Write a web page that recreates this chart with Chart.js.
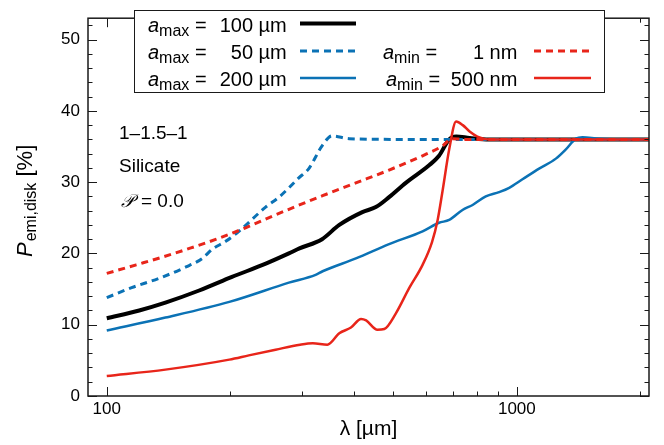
<!DOCTYPE html>
<html>
<head>
<meta charset="utf-8">
<script src="https://cdn.jsdelivr.net/npm/chart.js@4.4.1/dist/chart.umd.min.js"></script>
<style>
  html, body { margin: 0; padding: 0; background: #fff; }
  #wrap { width: 664px; height: 445px; }
</style>
</head>
<body>
<div id="wrap"><canvas id="chart" width="664" height="445"></canvas></div>
<script>
// valeurs (lambda en micron, P en %)
const lamAmax100 = [100, 120, 139, 168, 202, 245, 278, 295, 335, 369, 420, 453, 488, 536, 612, 646, 684, 711, 767, 855, 1000, 2100];
const pAmax100   = [10.9, 12.0, 13.1, 14.8, 16.7, 18.6, 20.0, 20.7, 22.0, 24.0, 25.8, 26.5, 27.9, 29.9, 32.4, 33.7, 36.0, 36.4, 36.2, 36.0, 36.0, 36.0];

const lamAmax50 = [100, 115, 134, 156, 171, 181, 195, 210, 244, 263, 278, 294, 311, 335, 354, 390, 516, 2100];
const pAmax50   = [13.8, 15.2, 16.5, 18.1, 19.3, 20.6, 21.7, 23.1, 26.5, 27.9, 29.2, 30.6, 31.9, 35.1, 36.5, 36.1, 36.0, 36.0];

const lamAmax200 = [100, 139, 199, 278, 323, 336, 405, 488, 589, 646, 684, 737, 780, 840, 905, 958, 1032, 1133, 1245, 1317, 1393, 1446, 1588, 2100];
const pAmax200   = [9.2, 11.0, 13.2, 15.9, 17.0, 17.5, 19.3, 21.3, 23.1, 24.3, 24.7, 26.1, 26.8, 28.0, 28.6, 29.2, 30.4, 31.9, 33.3, 34.6, 36.1, 36.3, 36.1, 36.0];

const lamAmin1 = [100, 118, 137, 159, 185, 218, 253, 295, 336, 405, 488, 589, 659, 695, 750, 2100];
const pAmin1   = [17.2, 18.4, 19.5, 20.7, 22.0, 23.6, 25.2, 26.8, 28.1, 29.9, 31.7, 33.7, 35.1, 36.1, 36.0, 36.0];

const lamAmin500 = [100, 139, 199, 222, 258, 296, 318, 345, 369, 394, 417, 429, 457, 475, 507, 547, 589, 621, 641, 659, 684, 711, 738, 767, 801, 856, 2100];
const pAmin500   = [2.8, 3.7, 5.1, 5.7, 6.5, 7.2, 7.4, 7.2, 8.8, 9.6, 10.8, 10.6, 9.3, 9.4, 11.6, 15.2, 18.4, 21.6, 24.7, 28.8, 34.6, 38.5, 38.0, 37.1, 36.4, 36.0, 36.0];

const xTicks = [100, 1000];
const xMinor = [200, 300, 400, 500, 600, 700, 800, 900, 2000];
const yTicks = [0, 10, 20, 30, 40, 50];
const yMinor = [2, 4, 6, 8, 12, 14, 16, 18, 22, 24, 26, 28, 32, 34, 36, 38, 42, 44, 46, 48, 52];

const BLACK = '#000000';
const BLUE = '#0b72b5';
const RED = '#e8251a';
const FONT = '"Liberation Sans", Arial, sans-serif';

function pts(xs, ys) {
  return xs.map((v, i) => ({ x: v, y: ys[i] }));
}

function serie(label, xs, ys, color, width, dash) {
  return {
    label: label,
    data: pts(xs, ys),
    borderColor: color,
    borderWidth: width,
    borderDash: dash || [],
    pointRadius: 0,
    fill: false,
    cubicInterpolationMode: 'monotone'
  };
}

// texte "a_sub = num unit" de la legende
function keyText(ctx, xa, base, sub, num, numRight, unit) {
  ctx.textAlign = 'left';
  ctx.font = 'italic 20px ' + FONT;
  ctx.fillText('a', xa, base);
  let xx = xa + ctx.measureText('a').width;
  ctx.font = '16px ' + FONT;
  ctx.fillText(sub, xx, base + 4);
  xx += ctx.measureText(sub).width;
  ctx.font = '20px ' + FONT;
  ctx.fillText(' =', xx, base);
  ctx.textAlign = 'right';
  ctx.fillText(num, numRight, base);
  ctx.textAlign = 'left';
  ctx.fillText(' ' + unit, numRight, base);
}

function keyLine(ctx, x1, x2, y, color, width, dash) {
  ctx.save();
  ctx.strokeStyle = color;
  ctx.lineWidth = width;
  ctx.setLineDash(dash || []);
  ctx.beginPath();
  ctx.moveTo(x1, y);
  ctx.lineTo(x2, y);
  ctx.stroke();
  ctx.restore();
}

const framePlugin = {
  id: 'framePlugin',
  afterDraw(chart) {
    const { ctx, chartArea: a, scales } = chart;
    const x = scales.x, y = scales.y;
    ctx.save();

    // cadre
    ctx.strokeStyle = '#1a1a1a';
    ctx.lineWidth = 1.5;
    ctx.strokeRect(a.left, a.top, a.right - a.left, a.bottom - a.top);

    // graduations vers l'interieur
    ctx.lineWidth = 1;
    ctx.beginPath();
    const tickX = (v, len) => {
      const px = Math.round(x.getPixelForValue(v)) + 0.5;
      ctx.moveTo(px, a.bottom); ctx.lineTo(px, a.bottom - len);
      ctx.moveTo(px, a.top); ctx.lineTo(px, a.top + len);
    };
    const tickY = (v, len) => {
      const py = Math.round(y.getPixelForValue(v)) + 0.5;
      ctx.moveTo(a.left, py); ctx.lineTo(a.left + len, py);
      ctx.moveTo(a.right, py); ctx.lineTo(a.right - len, py);
    };
    xTicks.forEach(v => tickX(v, 9));
    xMinor.forEach(v => tickX(v, 4.5));
    yTicks.forEach(v => tickY(v, 9));
    yMinor.forEach(v => tickY(v, 4.5));
    ctx.stroke();

    // legende
    ctx.fillStyle = '#fff';
    ctx.fillRect(134, 10, 471, 83);
    ctx.strokeStyle = '#1a1a1a';
    ctx.lineWidth = 1;
    ctx.strokeRect(134.5, 10.5, 470, 82);

    ctx.fillStyle = '#000';
    ctx.textBaseline = 'alphabetic';
    keyText(ctx, 148, 31.5, 'max', '100', 253, 'µm');
    keyText(ctx, 148, 58.5, 'max', '50', 253, 'µm');
    keyText(ctx, 148, 85.5, 'max', '200', 253, 'µm');
    keyText(ctx, 383, 58.5, 'min', '1', 484, 'nm');
    keyText(ctx, 386, 85.5, 'min', '500', 484, 'nm');
    keyLine(ctx, 300, 356, 23.5, BLACK, 4);
    keyLine(ctx, 300, 356, 51, BLUE, 3, [7, 5]);
    keyLine(ctx, 300, 356, 78, BLUE, 2.5);
    keyLine(ctx, 534, 591, 51, RED, 3, [7, 5]);
    keyLine(ctx, 534, 591, 78, RED, 2.5);

    // annotations
    ctx.font = '19px ' + FONT;
    ctx.textAlign = 'left';
    ctx.fillText('1–1.5–1', 119, 138.5);
    ctx.fillText('Silicate', 119, 172);
    ctx.font = 'italic 18px "DejaVu Serif", serif';
    ctx.fillText('𝒫', 121, 207);
    ctx.font = '19px ' + FONT;
    ctx.fillText('= 0.0', 141, 207);

    // titre axe x
    ctx.font = '21px ' + FONT;
    ctx.textAlign = 'center';
    ctx.fillText('λ [µm]', (a.left + a.right) / 2, 434.5);

    // titre axe y
    ctx.translate(32, 257);
    ctx.rotate(-Math.PI / 2);
    ctx.textAlign = 'left';
    ctx.font = 'italic 22px ' + FONT;
    ctx.fillText('P', 0, 0);
    let xx = ctx.measureText('P').width + 1;
    ctx.font = '16px ' + FONT;
    ctx.fillText('emi,disk', xx, 4);
    xx += ctx.measureText('emi,disk').width;
    ctx.font = '22px ' + FONT;
    ctx.fillText(' [%]', xx, 0);

    ctx.restore();
  }
};

const ctx = document.getElementById('chart').getContext('2d');
new Chart(ctx, {
  type: 'line',
  data: {
    datasets: [
      serie('a_min = 500 nm', lamAmin500, pAmin500, RED, 2.5),
      serie('a_min = 1 nm', lamAmin1, pAmin1, RED, 3, [7, 5]),
      serie('a_max = 200 µm', lamAmax200, pAmax200, BLUE, 2.5),
      serie('a_max = 50 µm', lamAmax50, pAmax50, BLUE, 3, [7, 5]),
      serie('a_max = 100 µm', lamAmax100, pAmax100, BLACK, 4)
    ]
  },
  options: {
    responsive: false,
    animation: false,
    events: [],
    layout: { padding: { top: 4, right: 15, left: 0, bottom: 0 } },
    plugins: {
      legend: { display: false },
      tooltip: { enabled: false }
    },
    scales: {
      x: {
        type: 'logarithmic',
        min: 90,
        max: 2100,
        grid: { display: false, drawTicks: false },
        border: { display: false },
        ticks: {
          color: '#000',
          font: { family: FONT, size: 17 },
          padding: 3,
          maxRotation: 0,
          autoSkip: false,
          callback: v => String(v)
        },
        afterBuildTicks: s => { s.ticks = xTicks.map(v => ({ value: v })); },
        afterFit: s => { s.height = 49; }
      },
      y: {
        min: 0,
        max: 53,
        grid: { display: false, drawTicks: false },
        border: { display: false },
        ticks: {
          color: '#000',
          font: { family: FONT, size: 17 },
          padding: 8
        },
        afterBuildTicks: s => { s.ticks = yTicks.map(v => ({ value: v })); },
        afterFit: s => { s.width = 88; }
      }
    }
  },
  plugins: [framePlugin]
});
</script>
</body>
</html>
